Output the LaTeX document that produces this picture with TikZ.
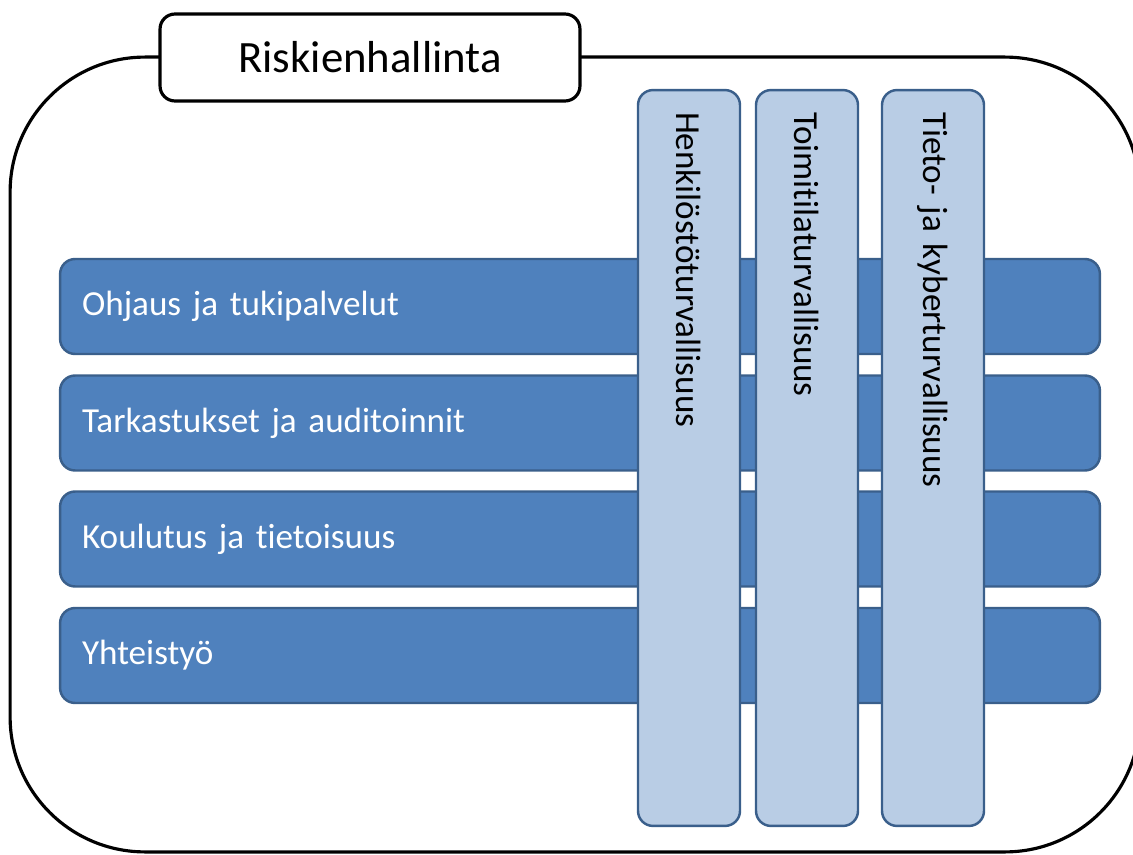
\documentclass[tikz,border=0pt]{standalone}
\usepackage{fontspec}
\setmainfont{Carlito}[Ligatures = NoCommon]

\definecolor{barblue}{HTML}{4F81BD}
\definecolor{palblue}{HTML}{B9CDE5}
\definecolor{edgeblue}{HTML}{3A5F8B}

\newcommand{\barfont}{\fontsize{20}{24}\selectfont}

\tikzset{
  frame/.style = {draw = black, line width = 1.8pt, rounded corners = 2.7cm,
    minimum width = 22.6cm, minimum height = 15.9cm, inner sep = 0pt},
  title/.style = {draw = black, fill = white, line width = 1.8pt, rounded corners = 0.3cm,
    minimum width = 8.4cm, minimum height = 1.74cm, font = \fontsize{25.5}{30}\selectfont},
  hbar/.style = {draw = edgeblue, fill = barblue, line width = 1.4pt, rounded corners = 0.3cm,
    minimum height = 1.9cm, text width = 19.92cm, inner xsep = 0.44cm, inner ysep = 0pt,
    align = left, text = white, font = \barfont},
  vbar/.style = {draw = edgeblue, fill = palblue, line width = 1.4pt, rounded corners = 0.3cm,
    rotate = -90, minimum height = 2.04cm, text width = 13.84cm, inner xsep = 0.44cm,
    inner ysep = 0pt, align = left, text = black, font = \barfont}
}

\begin{document}
\begin{tikzpicture}[x = 0.02cm, y = -0.02cm]

\useasboundingbox (0,0) rectangle (1133,855);

\node[frame] (risk) at (575,454.5) {};
\node[title] (riskhead) at (370,57.5) {Riskienhallinta};

\node[hbar] (h1) at (580,306.5) {Ohjaus ja tukipalvelut};
\node[hbar] (h2) at (580,423) {Tarkastukset ja auditoinnit};
\node[hbar] (h3) at (580,539) {Koulutus ja tietoisuus};
\node[hbar] (h4) at (580,655.5) {Yhteistyö};

\node[vbar] (v1) at (689,458) {Henkilöstöturvallisuus};
\node[vbar] (v2) at (807,458) {Toimitilaturvallisuus};
\node[vbar] (v3) at (933,458) {Tieto- ja kyberturvallisuus};

\end{tikzpicture}
\end{document}
